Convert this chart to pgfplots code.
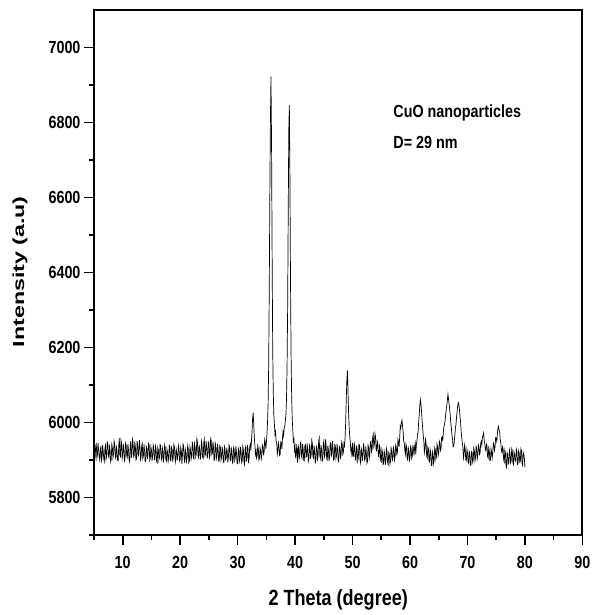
\documentclass[border=0pt]{standalone}
\usepackage{fontspec}
\setmainfont{Liberation Sans}[FakeStretch=0.82]
\newfontfamily\ylabfont{Liberation Sans}[FakeStretch=1.45]
\usepackage{pgfplots}
\pgfplotsset{compat=1.18}
\begin{document}
\begin{tikzpicture}
\useasboundingbox (-94bp,-80bp) rectangle (498.4bp,535bp);
\begin{axis}[
  at={(0,0)}, anchor=south west,
  scale only axis, width=488.4bp, height=525bp,
  xmin=5, xmax=90, ymin=5700, ymax=7100,
  xtick={10,20,...,90}, ytick={5800,6000,...,7000},
  minor xtick={5,15,...,85}, minor ytick={5700,5900,...,6900},
  tick align=outside, xtick pos=left, ytick pos=left,
  major tick length=10bp, minor tick length=5bp,
  every tick/.style={black, line width=1.6bp},
  axis line style={line width=2bp},
  /pgf/number format/assume math mode=true,
  /pgf/number format/set thousands separator={},
  tick label style={font=\fontsize{17.5bp}{20bp}\selectfont\bfseries},
  xticklabel style={yshift=-8bp},
  xlabel={2 Theta (degree)},
  ylabel={Intensity (a.u)},
  xlabel style={at={(axis description cs:0.5,-0.124)}, anchor=center, font=\fontsize{22bp}{24bp}\selectfont\bfseries},
  ylabel style={at={(axis description cs:-0.1515,0.5015)}, anchor=center, font=\ylabfont\fontsize{16bp}{18bp}\selectfont\bfseries},
]
\addplot[black, line width=0.7bp] table {
5.0 5934
5.1 5915
5.2 5908
5.3 5938
5.4 5942
5.5 5905
5.6 5914
5.7 5945
5.8 5929
5.9 5910
6.0 5900
6.1 5926
6.2 5937
6.3 5898
6.4 5905
6.5 5940
6.6 5924
6.7 5903
6.8 5896
6.9 5931
7.0 5939
7.1 5902
7.2 5911
7.3 5948
7.4 5946
7.5 5912
7.6 5907
7.7 5936
7.8 5927
7.9 5895
8.0 5902
8.1 5941
8.2 5932
8.3 5906
8.4 5916
8.5 5950
8.6 5941
8.7 5909
8.8 5904
8.9 5938
9.0 5923
9.1 5900
9.2 5898
9.3 5935
9.4 5958
9.5 5913
9.6 5909
9.7 5952
9.8 5944
9.9 5904
10.0 5913
10.1 5942
10.2 5930
10.3 5897
10.4 5901
10.5 5945
10.6 5938
10.7 5910
10.8 5906
10.9 5943
11.0 5928
11.1 5902
11.2 5895
11.3 5937
11.4 5950
11.5 5906
11.6 5917
11.7 5955
11.8 5947
11.9 5908
12.0 5912
12.1 5949
12.2 5935
12.3 5900
12.4 5903
12.5 5951
12.6 5940
12.7 5909
12.8 5920
12.9 5953
13.0 5936
13.1 5901
13.2 5908
13.3 5939
13.4 5944
13.5 5904
13.6 5911
13.7 5942
13.8 5925
13.9 5896
14.0 5897
14.1 5936
14.2 5932
14.3 5903
14.4 5914
14.5 5944
14.6 5939
14.7 5899
14.8 5904
14.9 5935
15.0 5926
15.1 5898
15.2 5909
15.3 5940
15.4 5935
15.5 5901
15.6 5902
15.7 5937
15.8 5930
15.9 5896
16.0 5893
16.1 5933
16.2 5927
16.3 5900
16.4 5908
16.5 5941
16.6 5938
16.7 5905
16.8 5899
16.9 5932
17.0 5924
17.1 5894
17.2 5912
17.3 5940
17.4 5933
17.5 5902
17.6 5897
17.7 5929
17.8 5921
17.9 5896
18.0 5905
18.1 5939
18.2 5936
18.3 5898
18.4 5900
18.5 5934
18.6 5928
18.7 5895
18.8 5910
18.9 5941
19.0 5934
19.1 5903
19.2 5895
19.3 5930
19.4 5922
19.5 5899
19.6 5911
19.7 5938
19.8 5930
19.9 5897
20.0 5901
20.1 5933
20.2 5925
20.3 5890
20.4 5914
20.5 5942
20.6 5937
20.7 5902
20.8 5892
20.9 5928
21.0 5919
21.1 5896
21.2 5906
21.3 5938
21.4 5931
21.5 5893
21.6 5898
21.7 5935
21.8 5927
21.9 5902
22.0 5910
22.1 5947
22.2 5943
22.3 5905
22.4 5903
22.5 5944
22.6 5935
22.7 5909
22.8 5916
22.9 5956
23.0 5948
23.1 5912
23.2 5907
23.3 5940
23.4 5929
23.5 5901
23.6 5912
23.7 5950
23.8 5941
23.9 5908
24.0 5905
24.1 5946
24.2 5955
24.3 5911
24.4 5915
24.5 5951
24.6 5937
24.7 5906
24.8 5909
24.9 5948
25.0 5945
25.1 5907
25.2 5913
25.3 5957
25.4 5952
25.5 5915
25.6 5918
25.7 5949
25.8 5933
25.9 5899
26.0 5902
26.1 5945
26.2 5939
26.3 5904
26.4 5911
26.5 5943
26.6 5928
26.7 5897
26.8 5898
26.9 5938
27.0 5934
27.1 5900
27.2 5907
27.3 5935
27.4 5924
27.5 5895
27.6 5893
27.7 5936
27.8 5930
27.9 5901
28.0 5904
28.1 5933
28.2 5921
28.3 5894
28.4 5909
28.5 5940
28.6 5936
28.7 5898
28.8 5900
28.9 5931
29.0 5925
29.1 5892
29.2 5895
29.3 5934
29.4 5928
29.5 5899
29.6 5908
29.7 5937
29.8 5919
29.9 5891
30.0 5890
30.1 5927
30.2 5932
30.3 5896
30.4 5903
30.5 5935
30.6 5922
30.7 5893
30.8 5897
30.9 5936
31.0 5927
31.1 5894
31.2 5888
31.3 5929
31.4 5935
31.5 5897
31.6 5899
31.7 5940
31.8 5930
31.9 5892
32.0 5905
32.1 5935
32.2 5942
32.3 5925
32.4 5950
32.5 5975
32.6 6010
32.7 6026
32.8 5995
32.9 5960
33.0 5940
33.1 5915
33.2 5925
33.3 5905
33.4 5912
33.5 5938
33.6 5930
33.7 5900
33.8 5905
33.9 5932
34.0 5925
34.1 5902
34.2 5910
34.3 5940
34.4 5935
34.5 5915
34.6 5918
34.7 5955
34.8 5948
34.9 5930
35.0 5945
35.1 5970
35.2 6000
35.3 6050
35.4 6150
35.5 6350
35.6 6600
35.7 6800
35.8 6923
35.9 6750
36.0 6450
36.1 6200
36.2 6080
36.3 6020
36.4 5995
36.5 5968
36.6 5975
36.7 5950
36.8 5945
36.9 5915
37.0 5925
37.1 5945
37.2 5935
37.3 5912
37.4 5915
37.5 5948
37.6 5945
37.7 5930
37.8 5958
37.9 5975
38.0 5965
38.1 5985
38.2 5990
38.3 6005
38.4 6020
38.5 6060
38.6 6150
38.7 6300
38.8 6550
38.9 6780
39.0 6847
39.1 6650
39.2 6380
39.3 6180
39.4 6070
39.5 6010
39.6 5980
39.7 5945
39.8 5955
39.9 5925
40.0 5935
40.1 5905
40.2 5920
40.3 5942
40.4 5893
40.5 5928
40.6 5935
40.7 5903
40.8 5912
40.9 5945
41.0 5948
41.1 5910
41.2 5905
41.3 5942
41.4 5930
41.5 5899
41.6 5898
41.7 5939
41.8 5941
41.9 5908
42.0 5910
42.1 5944
42.2 5927
42.3 5896
42.4 5902
42.5 5940
42.6 5936
42.7 5903
42.8 5915
42.9 5952
43.0 5944
43.1 5909
43.2 5906
43.3 5938
43.4 5925
43.5 5892
43.6 5895
43.7 5937
43.8 5933
43.9 5902
44.0 5911
44.1 5949
44.2 5958
44.3 5912
44.4 5904
44.5 5940
44.6 5929
44.7 5897
44.8 5899
44.9 5942
45.0 5950
45.1 5908
45.2 5913
45.3 5955
45.4 5937
45.5 5903
45.6 5900
45.7 5938
45.8 5926
45.9 5897
46.0 5908
46.1 5944
46.2 5946
46.3 5911
46.4 5917
46.5 5950
46.6 5931
46.7 5900
46.8 5903
46.9 5941
47.0 5939
47.1 5904
47.2 5910
47.3 5943
47.4 5928
47.5 5895
47.6 5897
47.7 5936
47.8 5934
47.9 5906
48.0 5912
48.1 5948
48.2 5942
48.3 5915
48.4 5921
48.5 5944
48.6 5938
48.7 5960
48.8 6000
48.9 6060
49.0 6110
49.1 6139
49.2 6090
49.3 6030
49.4 5990
49.5 5965
49.6 5950
49.7 5925
49.8 5932
49.9 5908
50.0 5945
50.1 5912
50.2 5910
50.3 5944
50.4 5936
50.5 5902
50.6 5899
50.7 5938
50.8 5928
50.9 5897
51.0 5905
51.1 5942
51.2 5940
51.3 5900
51.4 5892
51.5 5931
51.6 5925
51.7 5898
51.8 5910
51.9 5944
52.0 5933
52.1 5899
52.2 5903
52.3 5936
52.4 5920
52.5 5891
52.6 5896
52.7 5939
52.8 5934
52.9 5905
53.0 5915
53.1 5948
53.2 5950
53.3 5922
53.4 5928
53.5 5962
53.6 5968
53.7 5935
53.8 5942
53.9 5970
54.0 5962
54.1 5928
54.2 5925
54.3 5950
54.4 5945
54.5 5910
54.6 5908
54.7 5938
54.8 5930
54.9 5898
55.0 5895
55.1 5928
55.2 5920
55.3 5888
55.4 5890
55.5 5924
55.6 5915
55.7 5887
55.8 5900
55.9 5930
56.0 5922
56.1 5893
56.2 5888
56.3 5920
56.4 5917
56.5 5889
56.6 5896
56.7 5932
56.8 5925
56.9 5898
57.0 5902
57.1 5934
57.2 5928
57.3 5900
57.4 5908
57.5 5940
57.6 5935
57.7 5915
57.8 5920
57.9 5955
58.0 5948
58.1 5935
58.2 5960
58.3 5990
58.4 5985
58.5 6000
58.6 6006
58.7 5990
58.8 5975
58.9 5950
59.0 5945
59.1 5925
59.2 5915
59.3 5942
59.4 5935
59.5 5903
59.6 5900
59.7 5932
59.8 5925
59.9 5899
60.0 5905
60.1 5936
60.2 5930
60.3 5904
60.4 5910
60.5 5940
60.6 5928
60.7 5912
60.8 5935
60.9 5945
61.0 5915
61.1 5940
61.2 5950
61.3 5968
61.4 5975
61.5 6000
61.6 6020
61.7 6045
61.8 6061
61.9 6050
62.0 6030
62.1 6005
62.2 5985
62.3 5965
62.4 5950
62.5 5920
62.6 5930
62.7 5955
62.8 5945
62.9 5910
63.0 5905
63.1 5935
63.2 5930
63.3 5898
63.4 5895
63.5 5928
63.6 5920
63.7 5886
63.8 5885
63.9 5922
64.0 5915
64.1 5890
64.2 5900
64.3 5933
64.4 5928
64.5 5902
64.6 5910
64.7 5942
64.8 5935
64.9 5912
65.0 5920
65.1 5950
65.2 5945
65.3 5925
65.4 5930
65.5 5960
65.6 5962
65.7 5950
65.8 5975
65.9 5990
66.0 5995
66.1 6005
66.2 6020
66.3 6035
66.4 6045
66.5 6060
66.6 6075
66.7 6062
66.8 6050
66.9 6035
67.0 6020
67.1 6000
67.2 5985
67.3 5965
67.4 5955
67.5 5935
67.6 5935
67.7 5950
67.8 5965
67.9 5985
68.0 5995
68.1 6015
68.2 6030
68.3 6045
68.4 6053
68.5 6048
68.6 6035
68.7 6015
68.8 6000
68.9 5975
69.0 5960
69.1 5945
69.2 5935
69.3 5905
69.4 5915
69.5 5940
69.6 5930
69.7 5900
69.8 5898
69.9 5928
70.0 5920
70.1 5895
70.2 5892
70.3 5925
70.4 5915
70.5 5886
70.6 5887
70.7 5922
70.8 5920
70.9 5894
71.0 5900
71.1 5932
71.2 5925
71.3 5898
71.4 5905
71.5 5936
71.6 5930
71.7 5903
71.8 5912
71.9 5940
72.0 5935
72.1 5915
72.2 5920
72.3 5945
72.4 5950
72.5 5940
72.6 5960
72.7 5965
72.8 5972
72.9 5955
73.0 5945
73.1 5930
73.2 5925
73.3 5942
73.4 5938
73.5 5910
73.6 5905
73.7 5932
73.8 5925
73.9 5898
74.0 5900
74.1 5930
74.2 5922
74.3 5905
74.4 5918
74.5 5945
74.6 5940
74.7 5925
74.8 5935
74.9 5960
75.0 5958
75.1 5950
75.2 5970
75.3 5985
75.4 5990
75.5 5980
75.6 5975
75.7 5955
75.8 5945
75.9 5925
76.0 5920
76.1 5935
76.2 5930
76.3 5900
76.4 5895
76.5 5926
76.6 5918
76.7 5885
76.8 5880
76.9 5920
77.0 5915
77.1 5890
77.2 5893
77.3 5927
77.4 5920
77.5 5892
77.6 5898
77.7 5930
77.8 5925
77.9 5893
78.0 5888
78.1 5922
78.2 5915
78.3 5896
78.4 5900
78.5 5929
78.6 5922
78.7 5888
78.8 5890
78.9 5925
79.0 5918
79.1 5894
79.2 5896
79.3 5930
79.4 5925
79.5 5890
79.6 5885
79.7 5920
79.8 5915
79.9 5905
80.0 5880
};
\node[anchor=west, font=\fontsize{17.5bp}{20bp}\selectfont\bfseries] at (axis cs:56.5,6826) {CuO nanoparticles};
\node[anchor=west, font=\fontsize{17.5bp}{20bp}\selectfont\bfseries] at (axis cs:56.5,6746) {D= 29 nm};
\end{axis}
\end{tikzpicture}
\end{document}
